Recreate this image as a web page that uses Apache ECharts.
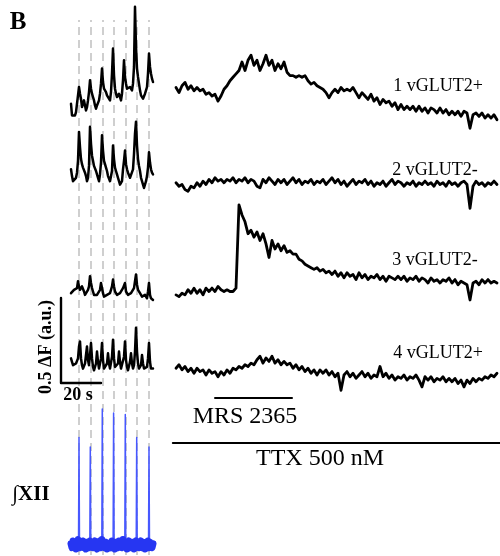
<!DOCTYPE html>
<html><head><meta charset="utf-8">
<script src="https://cdn.jsdelivr.net/npm/echarts@6/dist/echarts.min.js"></script>
<style>html,body{margin:0;padding:0;background:#fff}#c{width:500px;height:556px}</style>
</head><body><div id="c"></div>
<script>
// ---------- DATA ----------
// Left panel: spontaneous activity, sampled every 0.5 s, values in ΔF (a.u.)
const leftDt = 0.5;
const leftDuration = 41;
const burstTimes = [4, 9.65, 15.65, 21.3, 27.15, 32.85, 39];
const left1 = [0.08,0.01,0.00,0.02,0.01,0.03,0.08,0.13,0.18,0.14,
 0.11,0.06,0.08,0.10,0.07,0.04,0.06,0.10,0.15,0.22,
 0.17,0.14,0.12,0.10,0.07,0.05,0.07,0.08,0.10,0.14,
 0.20,0.29,0.21,0.17,0.16,0.15,0.13,0.14,0.12,0.10,
 0.15,0.26,0.41,0.25,0.17,0.14,0.12,0.13,0.14,0.12,
 0.10,0.14,0.22,0.34,0.24,0.20,0.17,0.16,0.17,0.18,
 0.17,0.16,0.20,0.30,0.66,0.42,0.29,0.24,0.20,0.16,
 0.13,0.12,0.11,0.12,0.14,0.16,0.18,0.26,0.38,0.30,
 0.26,0.23,0.21];
const left2 = [0.11,0.07,0.04,0.05,0.05,0.06,0.09,0.16,0.33,0.24,
 0.17,0.14,0.12,0.11,0.09,0.07,0.04,0.06,0.13,0.36,
 0.26,0.19,0.16,0.13,0.12,0.10,0.08,0.06,0.04,0.08,
 0.15,0.31,0.22,0.16,0.14,0.12,0.10,0.07,0.06,0.04,
 0.03,0.10,0.25,0.17,0.12,0.10,0.08,0.06,0.04,0.02,
 0.01,0.04,0.11,0.16,0.22,0.14,0.11,0.09,0.08,0.06,
 0.05,0.07,0.11,0.20,0.32,0.39,0.25,0.17,0.13,0.10,
 0.06,0.04,0.02,0.00,0.01,0.04,0.07,0.12,0.21,0.15,
 0.11,0.09,0.08];
const left3 = [0.04,0.05,0.05,0.06,0.06,0.07,0.07,0.11,0.08,0.06,
 0.07,0.08,0.07,0.05,0.03,0.04,0.04,0.06,0.08,0.14,
 0.10,0.07,0.05,0.03,0.02,0.03,0.03,0.04,0.04,0.06,
 0.10,0.07,0.04,0.02,0.03,0.03,0.03,0.04,0.04,0.04,
 0.06,0.08,0.12,0.08,0.05,0.04,0.03,0.03,0.04,0.04,
 0.04,0.05,0.07,0.07,0.10,0.05,0.04,0.03,0.03,0.03,
 0.04,0.05,0.05,0.07,0.11,0.15,0.09,0.06,0.05,0.04,
 0.03,0.02,0.03,0.03,0.03,0.02,0.01,0.05,0.10,0.03,
 0.01,0.01,0.00];
const left4 = [0.08,0.06,0.04,0.03,0.03,0.05,0.04,0.08,0.15,0.18,
 0.08,0.04,0.02,0.03,0.05,0.10,0.15,0.07,0.04,0.10,
 0.17,0.08,0.03,0.01,0.02,0.05,0.12,0.06,0.02,0.03,
 0.08,0.17,0.07,0.02,0.01,0.02,0.05,0.11,0.05,0.02,
 0.03,0.09,0.19,0.08,0.03,0.02,0.02,0.05,0.12,0.06,
 0.02,0.01,0.03,0.09,0.18,0.07,0.03,0.01,0.02,0.06,
 0.11,0.05,0.02,0.04,0.12,0.26,0.12,0.05,0.02,0.02,
 0.04,0.10,0.05,0.02,0.01,0.02,0.03,0.08,0.17,0.06,
 0.02,0.01,0.02];
// Integrated XII nerve (normalised a.u.)
const xiiBaseline = [0.01,-0.02,0.03,-0.01,0.02,-0.03,0.01,0.04,0.00,-0.02,
 0.02,-0.01,0.03,-0.02,0.01,-0.03,0.02,0.00,-0.02,0.03,
 -0.01,0.02,-0.02,0.01,0.03,-0.01,-0.03,0.02,0.00,0.03,
 -0.02,0.04,-0.01,0.01,-0.02,0.02,-0.03,0.01,0.00,0.02,
 -0.02,0.03,-0.01,0.01,-0.03,0.02,0.00,-0.02,0.03,-0.01,
 0.02,-0.02,0.04,0.00,-0.01,0.02,-0.03,0.01,0.03,-0.02,
 0.01,-0.01,0.02,-0.03,0.00,0.03,-0.01,0.02,-0.02,0.01,
 0.03,-0.02,0.00,0.02,-0.03,0.01,-0.01,0.03,-0.02,0.02,
 0.00,-0.02,0.01];
const xiiSpikes = [0.79, 0.72, 1.0, 0.97, 0.96, 0.79, 0.72];

// Right panel: responses in TTX, sampled every 1.5 s, ΔF (a.u.)
const rightDt = 1.5;
const right1 = [0.25,0.22,0.26,0.28,0.24,0.26,0.23,0.25,0.23,0.24,
 0.21,0.22,0.20,0.21,0.17,0.20,0.24,0.26,0.29,0.31,
 0.33,0.35,0.40,0.35,0.41,0.44,0.38,0.41,0.35,0.39,
 0.44,0.38,0.41,0.35,0.39,0.36,0.40,0.34,0.32,0.32,
 0.31,0.32,0.31,0.32,0.29,0.27,0.28,0.26,0.25,0.24,
 0.22,0.19,0.22,0.24,0.22,0.25,0.23,0.24,0.23,0.25,
 0.22,0.19,0.22,0.20,0.18,0.21,0.17,0.19,0.15,0.18,
 0.16,0.17,0.14,0.16,0.12,0.15,0.12,0.14,0.12,0.14,
 0.11,0.14,0.11,0.13,0.10,0.13,0.12,0.10,0.13,0.10,
 0.12,0.09,0.11,0.09,0.11,0.08,0.11,0.10,0.01,0.09,
 0.10,0.08,0.10,0.07,0.09,0.07,0.09,0.06];
const right2 = [0.16,0.14,0.15,0.12,0.11,0.14,0.13,0.16,0.14,0.17,
 0.15,0.18,0.16,0.19,0.17,0.18,0.16,0.18,0.17,0.19,
 0.16,0.18,0.17,0.19,0.16,0.18,0.17,0.14,0.13,0.18,
 0.16,0.19,0.17,0.15,0.18,0.16,0.18,0.15,0.17,0.19,
 0.16,0.18,0.15,0.17,0.16,0.18,0.15,0.17,0.16,0.18,
 0.15,0.17,0.19,0.16,0.18,0.15,0.17,0.14,0.16,0.18,
 0.15,0.17,0.16,0.18,0.15,0.17,0.14,0.16,0.15,0.17,
 0.14,0.16,0.18,0.15,0.17,0.16,0.14,0.16,0.15,0.17,
 0.14,0.16,0.15,0.17,0.15,0.16,0.14,0.17,0.15,0.16,
 0.14,0.17,0.15,0.16,0.14,0.16,0.17,0.15,0.01,0.14,
 0.17,0.15,0.16,0.14,0.16,0.15,0.17,0.15];
const right3 = [0.03,0.02,0.04,0.03,0.06,0.04,0.07,0.04,0.06,0.03,
 0.07,0.05,0.07,0.05,0.08,0.06,0.05,0.06,0.05,0.05,
 0.07,0.56,0.50,0.46,0.39,0.41,0.37,0.40,0.35,0.39,
 0.33,0.25,0.35,0.30,0.33,0.29,0.32,0.28,0.29,0.27,
 0.27,0.24,0.23,0.21,0.20,0.19,0.18,0.19,0.17,0.18,
 0.16,0.17,0.15,0.17,0.14,0.16,0.13,0.16,0.14,0.15,
 0.12,0.16,0.13,0.15,0.12,0.14,0.13,0.15,0.12,0.14,
 0.11,0.14,0.13,0.12,0.14,0.12,0.14,0.11,0.13,0.12,
 0.14,0.11,0.13,0.12,0.10,0.13,0.11,0.12,0.10,0.12,
 0.11,0.13,0.10,0.12,0.09,0.11,0.10,0.09,0.00,0.10,
 0.11,0.09,0.12,0.10,0.12,0.10,0.11,0.10];
const right4 = [0.14,0.16,0.13,0.15,0.12,0.14,0.11,0.14,0.12,0.13,
 0.10,0.13,0.11,0.12,0.09,0.12,0.10,0.13,0.11,0.14,
 0.13,0.15,0.14,0.16,0.15,0.17,0.16,0.19,0.21,0.17,
 0.20,0.18,0.21,0.17,0.19,0.16,0.18,0.16,0.17,0.14,
 0.16,0.13,0.15,0.12,0.14,0.11,0.13,0.10,0.13,0.11,
 0.13,0.10,0.12,0.09,0.11,0.01,0.10,0.12,0.09,0.11,
 0.08,0.10,0.12,0.09,0.11,0.08,0.10,0.09,0.15,0.09,
 0.11,0.08,0.10,0.07,0.09,0.08,0.10,0.07,0.09,0.08,
 0.10,0.07,0.03,0.09,0.07,0.09,0.06,0.08,0.07,0.09,
 0.06,0.08,0.06,0.08,0.05,0.07,0.03,0.07,0.05,0.08,
 0.06,0.08,0.07,0.09,0.08,0.10,0.09,0.11];
const mrsWindow = [19.5, 58];     // s, right time axis
const ttxWindow = [-1.6, 162];    // s
const scaleBarDF = 0.5;
const scaleBarSec = 20;
const cellLabels = ['1 vGLUT2+', '2 vGLUT2-', '3 vGLUT2-', '4 vGLUT2+'];
const panelLabel = 'B';
const nerveLabel = '\u222BXII';
const scaleYLabel = '0.5 \u0394F (a.u.)';
const scaleXLabel = '20 s';
const mrsLabel = 'MRS 2365';
const ttxLabel = 'TTX 500 nM';

// ---------- LAYOUT ----------
const PXS = 2;      // px per second
const PXDF = 170;   // px per ΔF unit
const grids = [], xAxes = [], yAxes = [], series = [];
function addGrid(x0, zeroY, xr, yr, pxs, pxy) {
  grids.push({left: x0, width: (xr[1] - xr[0]) * pxs, top: zeroY - yr[1] * pxy,
              height: (yr[1] - yr[0]) * pxy, containLabel: false, show: false});
  const i = grids.length - 1;
  xAxes.push({type: 'value', gridIndex: i, min: xr[0], max: xr[1], show: false});
  yAxes.push({type: 'value', gridIndex: i, min: yr[0], max: yr[1], show: false});
  return i;
}
function lineSeries(gi, data, color, width, z) {
  series.push({type: 'line', xAxisIndex: gi, yAxisIndex: gi, data: data, symbol: 'none',
    showSymbol: false, clip: false, silent: true, animation: false, z: z || 3,
    lineStyle: {color: color, width: width, join: 'round', cap: 'round'}});
}
const sampled = (vals, dt) => vals.map((v, i) => [i * dt, v]);

// dashed burst markers
const gDash = addGrid(71, 555, [0, leftDuration], [0, 1], PXS, 535);
series.push({type: 'line', xAxisIndex: gDash, yAxisIndex: gDash, data: [[0, 0]], symbol: 'none',
  showSymbol: false, silent: true, animation: false, z: 1, lineStyle: {opacity: 0},
  markLine: {z: 1, symbol: ['none', 'none'], silent: true, animation: false, label: {show: false},
    lineStyle: {color: '#cfcfcf', width: 2, type: [8, 5]},
    data: burstTimes.map(t => ({xAxis: t}))}});

// left traces
const leftTraces = [[left1, 117, [-0.05, 0.7]], [left2, 188, [-0.05, 0.45]],
                    [left3, 300, [-0.05, 0.2]], [left4, 372, [-0.05, 0.3]]];
leftTraces.forEach(([vals, zy, yr]) => {
  const g = addGrid(71, zy, [0, leftDuration], yr, PXS, PXDF);
  lineSeries(g, sampled(vals, leftDt), '#000', 2.5);
});

// XII nerve
const gX = addGrid(71, 545, [0, leftDuration], [-0.08, 1.05], PXS, 136);
lineSeries(gX, sampled(xiiBaseline, leftDt), '#2636f2', 7, 3);
const spikeData = [[0, 0]];
burstTimes.forEach((t, k) => { spikeData.push([t - 0.25, 0], [t, xiiSpikes[k]], [t + 0.25, 0]); });
spikeData.push([leftDuration, 0]);
lineSeries(gX, spikeData, '#4758ff', 1.5, 2);

// scale bar
const gS = addGrid(61, 383, [0, scaleBarSec], [0, scaleBarDF], PXS, PXDF);
lineSeries(gS, [[0, scaleBarDF], [0, 0], [scaleBarSec, 0]], '#000', 2.4);

// right traces
const rightRange = [-2, 162];
const rightTraces = [[right1, 130, [0, 0.5]], [right2, 210, [0, 0.3]],
                     [right3, 300, [0, 0.6]], [right4, 392, [0, 0.3]]];
rightTraces.forEach(([vals, zy, yr]) => {
  const g = addGrid(172, zy, rightRange, yr, PXS, PXDF);
  lineSeries(g, sampled(vals, rightDt), '#000', 2.8);
});
// drug application bars
const gM = addGrid(172, 398, rightRange, [-1, 1], PXS, 1);
lineSeries(gM, [[mrsWindow[0], 0], [mrsWindow[1], 0]], '#000', 2);
const gT = addGrid(172, 443, rightRange, [-1, 1], PXS, 1);
lineSeries(gT, [[ttxWindow[0], 0], [ttxWindow[1], 0]], '#000', 2);

// ---------- TEXT ----------
const serif = '"Liberation Serif", "Times New Roman", serif';
function txt(s, x, y, size, bold, rot) {
  return {type: 'text', x: x, y: y, rotation: rot || 0, silent: true, z: 10,
    style: {text: s, font: (bold ? 'bold ' : '') + size + 'px ' + serif, fill: '#000',
      textAlign: 'center', textVerticalAlign: 'middle', align: 'center', verticalAlign: 'middle'}};
}
const graphics = [
  txt(panelLabel, 18, 23, 25, true),
  txt(nerveLabel, 31, 495, 21, true),
  txt(scaleYLabel, 46, 347, 18, true, Math.PI / 2),
  txt(scaleXLabel, 78, 395, 18, true),
  txt(mrsLabel, 245, 417, 24, false),
  txt(ttxLabel, 320, 459, 24, false)
];
const labelPos = [[438, 86], [435, 170], [435, 260], [438, 353]];
cellLabels.forEach((s, k) => graphics.push(txt(s, labelPos[k][0], labelPos[k][1], 18, false)));

const chart = echarts.init(document.getElementById('c'), null, {renderer: 'canvas'});
chart.setOption({animation: false, backgroundColor: '#fff', grid: grids, xAxis: xAxes, yAxis: yAxes,
  series: series, graphic: {elements: graphics}});
</script></body></html>
